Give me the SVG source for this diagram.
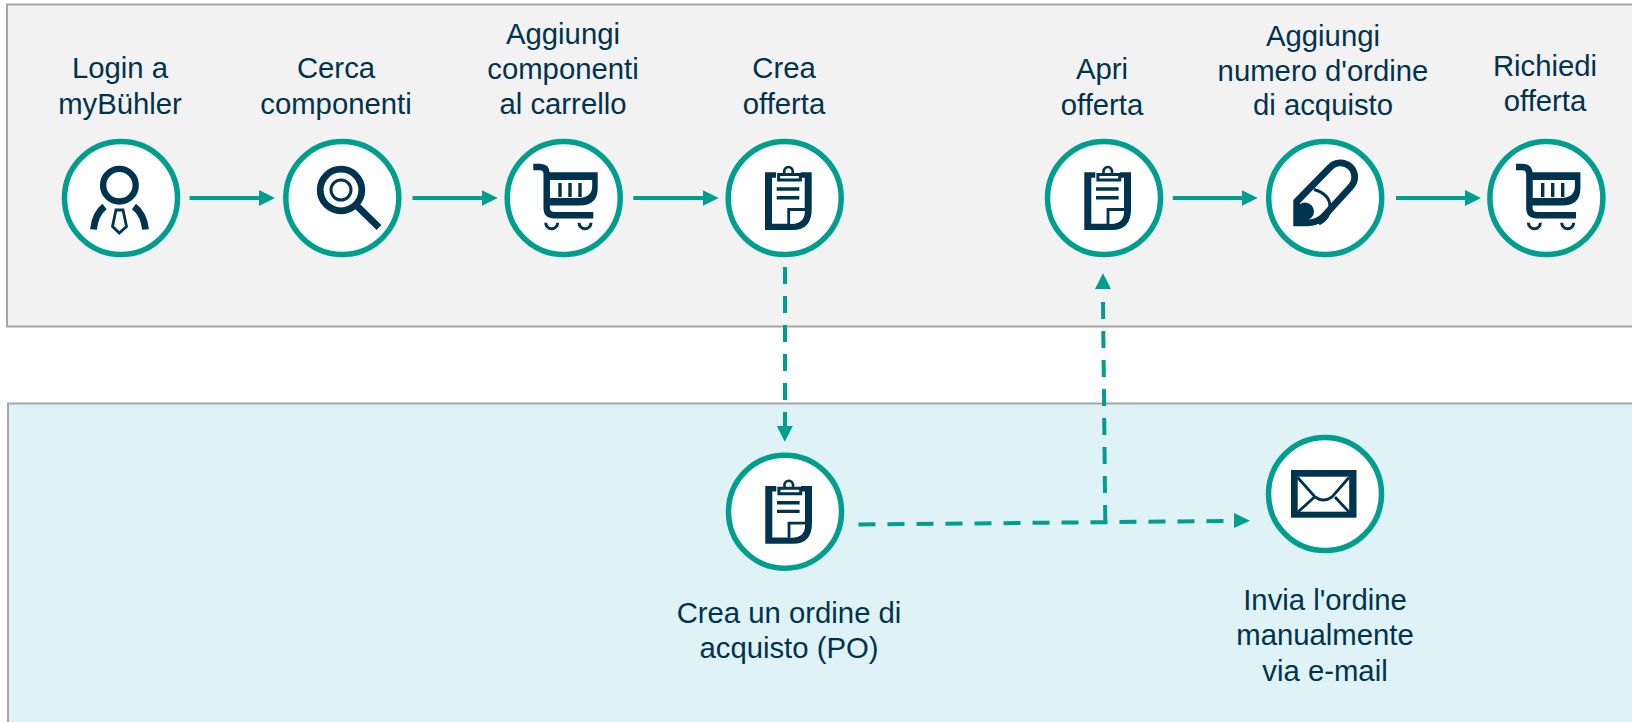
<svg xmlns="http://www.w3.org/2000/svg" width="1632" height="722" viewBox="0 0 1632 722">
<style>
.ring{fill:#fff;stroke:#009e8f;stroke-width:5.5}
.lbl{font-family:"Liberation Sans",Arial,sans-serif;font-size:29.3px;fill:#00334e;text-anchor:middle}
.conn{fill:none;stroke:#009e8f;stroke-width:4}
.dash{stroke-dasharray:17 12}
.ink{fill:#00334e}
.ln{fill:none;stroke:#00334e}
</style>
<defs>
<marker id="ah" markerUnits="userSpaceOnUse" markerWidth="17" markerHeight="17" refX="6" refY="8" orient="auto"><path d="M0,0L16,8L0,16Z" fill="#009e8f"/></marker>
<symbol id="clip" overflow="visible">
<path class="ink" d="M-19.7,-25.700H-8.700V-20.300H-12.700V25.700H8Q20,25.700 20,11V-20.300H16V-25.700H27V11Q27,32 8,32H-19.700Z"/>
<path d="M5,12.500H20V14Q20,25.700 6,25.700H5Z" fill="#fff"/>
<path class="ln" stroke-width="2.800" d="M4,26V11.500H21"/>
<path class="ln" stroke-width="3" d="M-6.100,-23.400H15.700V-18H-6.100Z"/>
<path class="ln" stroke-width="2.600" d="M-0.500,-23.400V-26A4.300,4.300 0 1 1 8,-26V-23.400"/>
<path class="ln" stroke-width="3.400" d="M-8,-9H14.600M-8,-0.300H14.600"/>
</symbol>
<symbol id="cart" overflow="visible">
<path class="ln" stroke-width="6.400" d="M-30.400,-31H-24Q-17,-31 -17,-24V10Q-17,17.300 -9,17.300H29.600"/>
<path class="ink" fill-rule="evenodd" d="M-17,-25.700H34V-10Q34,7.500 16,7.500H-17ZM-14,-18V0H14Q28.500,0 28.500,-12V-18Z"/>
<path class="ln" stroke-width="3.400" d="M-3.700,-15V-1M6.300,-15V-1M16.300,-15V-1"/>
<path class="ln" stroke-width="3" d="M-18,24.800A6,6 0 0 0 -6,24.800M15.300,24.800A6,6 0 0 0 27.300,24.800"/>
</symbol>
</defs>
<rect x="7" y="4.500" width="1640" height="322" fill="#f2f2f2" stroke="#a6a6a6" stroke-width="2"/>
<rect x="8" y="403.500" width="1640" height="340" fill="#dff2f5" stroke="#a6a6a6" stroke-width="2"/>
<g id="connectors">
<path class="conn" marker-end="url(#ah)" d="M189.500,198H265"/>
<path class="conn" marker-end="url(#ah)" d="M412.500,198H487.700"/>
<path class="conn" marker-end="url(#ah)" d="M633.300,198H708.700"/>
<path class="conn" marker-end="url(#ah)" d="M1172.800,198H1247.700"/>
<path class="conn" marker-end="url(#ah)" d="M1396,198H1471"/>
<path class="conn dash" d="M785,267V427"/>
<path d="M776.800,426H792.800L784.800,441.700Z" fill="#009e8f"/>
<path class="conn dash" d="M858.500,524.500L1228,521"/>
<path d="M1234,513L1250,520.700L1234,528Z" fill="#009e8f"/>
<path class="conn dash" d="M1105.300,522L1103,302"/>
<path d="M1103,273.300L1111,289H1095Z" fill="#009e8f"/>
</g>
<g id="login"><circle class="ring" cx="121" cy="198" r="56.500"/>
<circle class="ln" cx="119.400" cy="185.200" r="16.300" stroke-width="6.400"/>
<path class="ln" stroke-width="6.800" d="M93.500,229.500Q95,214 104.500,206.500M145.500,229.500Q144,214 134,206.500"/>
<path class="ln" stroke-width="2.800" d="M116,210H123L126.500,226.500L119.300,233L112.500,226.500Z"/>
<text class="lbl"><tspan x="120" y="78">Login a</tspan><tspan x="120" y="114">myBühler</tspan></text></g>
<g id="cerca"><circle class="ring" cx="342.300" cy="198" r="56.500"/>
<circle class="ln" cx="341" cy="190" r="20.800" stroke-width="6.800"/>
<circle class="ln" cx="341" cy="190" r="10" stroke-width="3"/>
<path class="ln" stroke-width="6.800" d="M356.500,205.500L379,227.500"/>
<text class="lbl"><tspan x="336" y="78">Cerca</tspan><tspan x="336" y="114">componenti</tspan></text></g>
<g id="aggiungi-componenti"><circle class="ring" cx="563.700" cy="198" r="56.500"/>
<use href="#cart" x="563.700" y="198"/>
<text class="lbl"><tspan x="563" y="44">Aggiungi</tspan><tspan x="563" y="79">componenti</tspan><tspan x="563" y="114">al carrello</tspan></text></g>
<g id="crea-offerta"><circle class="ring" cx="784.700" cy="198" r="56.500"/>
<use href="#clip" x="784.700" y="198"/>
<text class="lbl"><tspan x="784" y="78">Crea</tspan><tspan x="784" y="114">offerta</tspan></text></g>
<g id="apri-offerta"><circle class="ring" cx="1104" cy="198" r="56.500"/>
<use href="#clip" x="1104" y="198"/>
<text class="lbl"><tspan x="1102" y="79">Apri</tspan><tspan x="1102" y="115">offerta</tspan></text></g>
<g id="aggiungi-numero"><circle class="ring" cx="1325.200" cy="198" r="56.500"/>
<path class="ln" stroke-width="6.800" fill="#fff" d="M1296.700,222.800V201.500L1330,167.500A13.500,13.500 0 0 1 1351,186.500L1325,215Q1318,222.800 1308,222.800Z"/>
<path class="ln" stroke-width="3" d="M1314,189.500Q1330,194 1330,207Q1330,218 1319,224"/>
<circle class="ink" cx="1305" cy="211.500" r="9"/>
<path class="ink" d="M1294,226V212H1305V226Z"/>
<text class="lbl"><tspan x="1323" y="46">Aggiungi</tspan><tspan x="1323" y="81">numero d'ordine</tspan><tspan x="1323" y="115">di acquisto</tspan></text></g>
<g id="richiedi-offerta"><circle class="ring" cx="1546.400" cy="198" r="56.500"/>
<use href="#cart" x="1546.400" y="198"/>
<text class="lbl"><tspan x="1545" y="76">Richiedi</tspan><tspan x="1545" y="111">offerta</tspan></text></g>
<g id="crea-ordine"><circle class="ring" cx="785" cy="511.700" r="56.500"/>
<use href="#clip" x="785" y="511.700"/>
<text class="lbl"><tspan x="789" y="623">Crea un ordine di</tspan><tspan x="789" y="658">acquisto (PO)</tspan></text></g>
<g id="invia-ordine"><circle class="ring" cx="1325" cy="494" r="56.500"/>
<rect class="ink" x="1291" y="470" width="65.500" height="47.700"/>
<rect x="1297.700" y="476.700" width="51.500" height="35" fill="#fff"/>
<path class="ln" stroke-width="2.800" d="M1297.700,477.500L1315,497Q1323.500,503 1332,497L1349,477.500M1314.500,497L1298,512M1335,497L1349,512"/>
<text class="lbl"><tspan x="1325" y="610">Invia l'ordine</tspan><tspan x="1325" y="645">manualmente</tspan><tspan x="1325" y="681">via e-mail</tspan></text></g>
</svg>
